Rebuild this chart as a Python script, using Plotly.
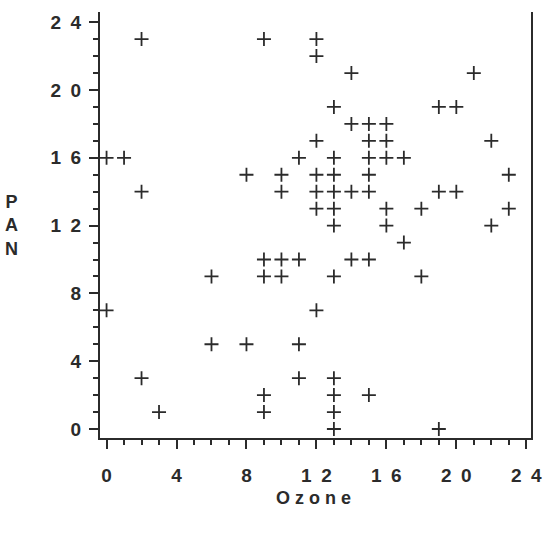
import plotly.graph_objects as go

ozone = [2, 9, 12, 12, 14, 21, 13, 19, 20, 14, 15, 16, 12, 15, 16, 22,
         0, 1, 11, 13, 15, 16, 17, 8, 10, 12, 13, 15, 23,
         2, 10, 12, 13, 14, 15, 19, 20, 12, 13, 16, 18, 23,
         13, 16, 22, 17, 9, 10, 11, 14, 15, 6, 9, 10, 13, 18,
         0, 12, 6, 8, 11, 2, 11, 13, 9, 13, 15, 3, 9, 13, 13, 19]
pan = [23, 23, 23, 22, 21, 21, 19, 19, 19, 18, 18, 18, 17, 17, 17, 17,
       16, 16, 16, 16, 16, 16, 16, 15, 15, 15, 15, 15, 15,
       14, 14, 14, 14, 14, 14, 14, 14, 13, 13, 13, 13, 13,
       12, 12, 12, 11, 10, 10, 10, 10, 10, 9, 9, 9, 9, 9,
       7, 7, 5, 5, 5, 3, 3, 3, 2, 2, 2, 1, 1, 1, 0, 0]

tick_alias = {"12": "1\u20022", "16": "1\u20026", "20": "2\u20020", "24": "2\u20024"}

x_range = [-0.375, 24.27]
y_range = [-0.53, 24.6]

ink = "#2b2b2b"
tfont = dict(family="Liberation Sans, Arial, sans-serif", size=19, color=ink, weight="bold")

fig = go.Figure()
fig.add_trace(go.Scatter(
    x=ozone, y=pan, mode="markers", cliponaxis=False,
    marker=dict(symbol="cross-thin", size=10, line=dict(width=1.8, color=ink), color=ink),
    showlegend=False,
))

axis_common = dict(
    tickmode="linear", tick0=0, dtick=4, labelalias=tick_alias,
    ticks="outside", ticklen=9, tickwidth=1.6,
    tickcolor=ink, showline=True, linecolor=ink, linewidth=2, showgrid=False, zeroline=False,
    tickfont=tfont,
    minor=dict(ticks="outside", ticklen=5, tickwidth=1.5, tickcolor=ink,
               tickmode="linear", tick0=0, dtick=1, showgrid=False),
)

fig.update_layout(
    xaxis=dict(range=x_range, ticklabelstandoff=10, mirror=False, **axis_common),
    yaxis=dict(range=y_range, ticklabelstandoff=4, mirror=True, **axis_common),
)

fig.add_annotation(text="O z o n e", xref="paper", yref="paper", x=0.495, y=-0.14,
                   xanchor="center", yanchor="middle", showarrow=False,
                   font=dict(family="Liberation Sans, Arial, sans-serif", size=18, color=ink, weight="bold"))
fig.add_annotation(text="P<br>A<br>N", xref="paper", yref="paper", x=-0.205, y=0.498,
                   xanchor="center", yanchor="middle", showarrow=False,
                   font=dict(family="Liberation Sans, Arial, sans-serif", size=18, color=ink, weight="bold"))

fig.update_layout(
    width=554, height=538, autosize=False,
    margin=dict(l=100, r=14, t=12, b=100),
    paper_bgcolor="white", plot_bgcolor="white",
)

fig.write_html("out.html")
